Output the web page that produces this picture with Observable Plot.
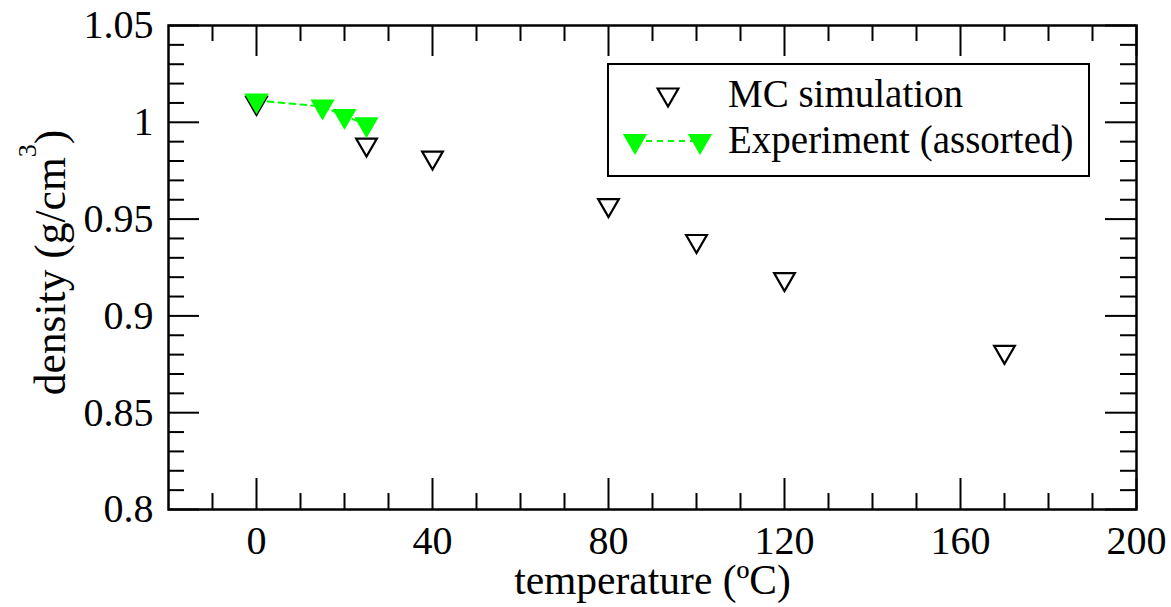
<!DOCTYPE html>
<html><head><meta charset="utf-8">
<script src="https://cdn.jsdelivr.net/npm/d3@7"></script>
<script src="https://cdn.jsdelivr.net/npm/@observablehq/plot@0.6"></script>
<style>html,body{margin:0;padding:0;background:#fff;}</style>
</head><body><div id="chart"></div>
<script>
// ---- data ----
const mcTemperature = [0, 25, 40, 80, 100, 120, 170];
const mcDensity = [1.0100, 0.9885, 0.9818, 0.9572, 0.9387, 0.9190, 0.8814];
const expTemperature = [0, 15, 20, 25];
const expDensity = [1.0113, 1.0082, 1.0032, 0.9990];
const seriesNames = ["MC simulation", "Experiment (assorted)"];
const xMajorTicks = [0, 40, 80, 120, 160, 200];
const xMinorTicks = [-10, 10, 20, 30, 50, 60, 70, 90, 100, 110, 130, 140, 150, 170, 180, 190];
const yMajorTicks = [0.8, 0.85, 0.9, 0.95, 1, 1.05];
const yMajorLabels = ["0.8", "0.85", "0.9", "0.95", "1", "1.05"];
const yMinorTicks = [0.81, 0.82, 0.83, 0.84, 0.86, 0.87, 0.88, 0.89, 0.91, 0.92, 0.93, 0.94,
                     0.96, 0.97, 0.98, 0.99, 1.01, 1.02, 1.03, 1.04];
const xLabel = "temperature (ºC)";
const yLabel = "density (g/cm3)";

const mcData = mcTemperature.map((t, i) => ({t, d: mcDensity[i]}));
const expData = expTemperature.map((t, i) => ({t, d: expDensity[i]}));

// ---- layout ----
const W = 1171, H = 607;
const mL = 168, mR = 35, mT = 25, mB = 98;
const iW = W - mL - mR, iH = H - mT - mB;
const majorLen = 31, minorLen = 16;
const green = "#00ff00";
const font = "'Liberation Serif', 'Times New Roman', Times, serif";

const triangleDown = {
  draw(context, size) {
    const y = Math.sqrt(size / (3 * Math.sqrt(3)));
    context.moveTo(0, 2 * y);
    context.lineTo(-Math.sqrt(3) * y, -y);
    context.lineTo(Math.sqrt(3) * y, -y);
    context.closePath();
  }
};
const rMC = 7.7, rExp = 9.0;

const chart = Plot.plot({
  width: W, height: H,
  marginLeft: mL, marginRight: mR, marginTop: mT, marginBottom: mB,
  style: {fontFamily: font, fontSize: "40px", background: "white", color: "black"},
  x: {domain: [-20, 200]},
  y: {domain: [0.8, 1.05]},
  marks: [
    // inward ticks on all four sides
    Plot.tickX(xMajorTicks, {x: d => d, insetTop: iH - majorLen, strokeWidth: 2, stroke: "black"}),
    Plot.tickX(xMajorTicks, {x: d => d, insetBottom: iH - majorLen, strokeWidth: 2, stroke: "black"}),
    Plot.tickX(xMinorTicks, {x: d => d, insetTop: iH - minorLen, strokeWidth: 2, stroke: "black"}),
    Plot.tickX(xMinorTicks, {x: d => d, insetBottom: iH - minorLen, strokeWidth: 2, stroke: "black"}),
    Plot.tickY(yMajorTicks, {y: d => d, insetRight: iW - majorLen, strokeWidth: 2, stroke: "black"}),
    Plot.tickY(yMajorTicks, {y: d => d, insetLeft: iW - majorLen, strokeWidth: 2, stroke: "black"}),
    Plot.tickY(yMinorTicks, {y: d => d, insetRight: iW - minorLen, strokeWidth: 2, stroke: "black"}),
    Plot.tickY(yMinorTicks, {y: d => d, insetLeft: iW - minorLen, strokeWidth: 2, stroke: "black"}),
    Plot.frame({stroke: "black", strokeWidth: 2.5}),
    // tick labels
    Plot.axisX(xMajorTicks, {tickSize: 0, tickPadding: 16, fontSize: 40, label: null, tickFormat: d => String(d)}),
    Plot.axisY(yMajorTicks, {tickSize: 0, tickPadding: 15, fontSize: 40, label: null,
      tickFormat: d => yMajorLabels[yMajorTicks.indexOf(d)]}),
    // axis titles
    Plot.text([xLabel], {frameAnchor: "bottom", dy: 84, lineAnchor: "bottom", textAnchor: "middle", fontSize: 41.5, text: d => d}),
    Plot.text([yLabel], {frameAnchor: "left", dx: -104, dy: -5, rotate: -90, lineAnchor: "bottom", textAnchor: "middle", fontSize: 43.5, text: d => d}),
    // data
    Plot.dot(mcData, {x: "t", y: "d", symbol: triangleDown, r: rMC, stroke: "black", strokeWidth: 2.2, fill: "none"}),
    Plot.line(expData, {x: "t", y: "d", stroke: green, strokeWidth: 2, strokeDasharray: "6,5"}),
    Plot.dot(expData, {x: "t", y: "d", symbol: triangleDown, r: rExp, fill: green, stroke: "none"})
  ]
});
document.getElementById("chart").appendChild(chart);

// superscript 3 in y label
d3.select(chart).selectAll("text").filter(function() { return this.textContent === yLabel; })
  .each(function() {
    const t = d3.select(this);
    t.text(null);
    t.append("tspan").text("density (g/cm");
    t.append("tspan").attr("font-size", 26).attr("dy", -29).text("3");
    t.append("tspan").attr("font-size", 43.5).attr("dy", 29).text(")");
  });

// legend box (inside plot area, top right)
const sym = (r) => d3.symbol(triangleDown, Math.PI * r * r)();
const lg = d3.select(chart).append("g").attr("font-family", font).attr("text-anchor", "start");
lg.append("rect").attr("x", 608).attr("y", 64).attr("width", 481).attr("height", 112)
  .attr("fill", "white").attr("stroke", "black").attr("stroke-width", 2);
lg.append("path").attr("d", sym(rMC)).attr("transform", "translate(668,94.5)")
  .attr("fill", "none").attr("stroke", "black").attr("stroke-width", 2.2);
lg.append("line").attr("x1", 635).attr("x2", 700).attr("y1", 141).attr("y2", 141)
  .attr("stroke", green).attr("stroke-width", 2).attr("stroke-dasharray", "6,5");
[635, 700].forEach(x => lg.append("path").attr("d", sym(rExp))
  .attr("transform", `translate(${x},141)`).attr("fill", green));
lg.append("text").attr("x", 728).attr("y", 107).attr("font-size", 39).attr("fill", "black")
  .attr("text-anchor", "start").text(seriesNames[0]);
lg.append("text").attr("x", 728).attr("y", 153).attr("font-size", 39).attr("fill", "black")
  .attr("text-anchor", "start").text(seriesNames[1]);
</script>
</body></html>
